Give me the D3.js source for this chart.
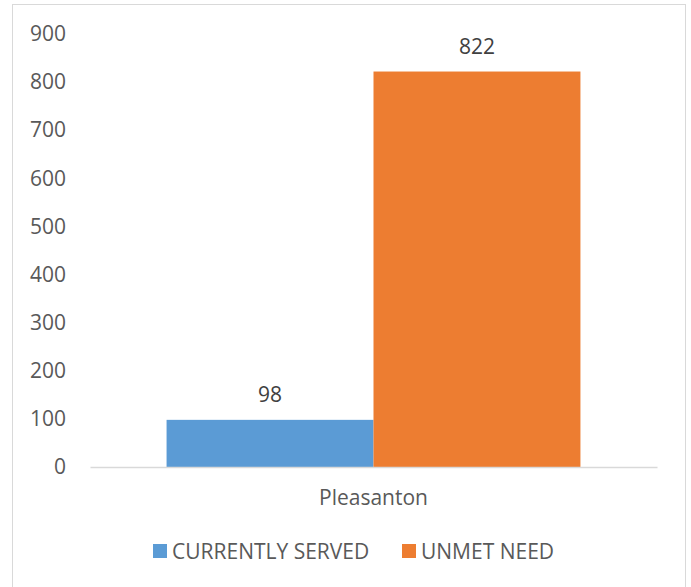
<!DOCTYPE html>
<html lang="en">
<head>
<meta charset="UTF-8">
<title>Pleasanton</title>
<script src="https://d3js.org/d3.v7.js"></script>
<style>
body { margin: 0; background: #fff; }
svg { display: block; }
text {
  font-family: "Open Sans", "Noto Sans", sans-serif;
  fill: #595959;
}
</style>
</head>
<body>
<svg id="chart" width="691" height="587"></svg>
<script>
const categories = ["Pleasanton"]
const seriesNames = ["CURRENTLY SERVED", "UNMET NEED"]
const servedValues = [98]
const unmetValues = [822]
const yTicks = [0, 100, 200, 300, 400, 500, 600, 700, 800, 900]
const colors = ["#5b9bd5", "#ed7d31"]

const svg = d3.select("#chart")
const fontSize = "21px"

// outer chart frame
svg.append("rect")
    .attr("x", 12.5).attr("y", 4.5)
    .attr("width", 673).attr("height", 600)
    .attr("fill", "none")
    .attr("stroke", "#d9d9d9")

const plotLeft = 90, plotRight = 657, plotTop = 34, plotBottom = 467

const x = d3.scaleBand().domain(categories).range([plotLeft, plotRight])
    .paddingInner(0).paddingOuter(0.185)
const xs = d3.scaleBand().domain(seriesNames).range([0, x.bandwidth()])
const y = d3.scaleLinear().domain([0, 900]).range([plotBottom, plotTop])

const rows = categories.map((c, i) => ({
    cat: c,
    vals: [servedValues[i], unmetValues[i]]
}))

// y axis labels
const yAxis = svg.append("g")
    .attr("transform", `translate(${plotLeft - 24},0)`)
    .call(d3.axisLeft(y).tickValues(yTicks).tickSize(0).tickPadding(0))
yAxis.select(".domain").remove()
yAxis.selectAll("text")
    .style("font-size", fontSize)
    .attr("fill", "#595959")

// bars
const groups = svg.append("g").selectAll("g")
    .data(rows)
    .join("g")
    .attr("transform", d => `translate(${x(d.cat)},0)`)

groups.selectAll("rect")
    .data(d => d.vals.map((v, i) => ({name: seriesNames[i], v: v, i: i})))
    .join("rect")
    .attr("x", d => xs(d.name))
    .attr("y", d => y(d.v))
    .attr("width", xs.bandwidth())
    .attr("height", d => y(0) - y(d.v))
    .attr("fill", d => colors[d.i])

groups.selectAll("text.lbl")
    .data(d => d.vals.map((v, i) => ({name: seriesNames[i], v: v})))
    .join("text")
    .classed("lbl", true)
    .attr("x", d => xs(d.name) + xs.bandwidth() / 2)
    .attr("y", d => y(d.v) - 18)
    .attr("text-anchor", "middle")
    .style("font-size", fontSize)
    .style("fill", "#404040")
    .text(d => d.v)

// x axis
const xAxis = svg.append("g")
    .attr("transform", `translate(0,${plotBottom})`)
    .call(d3.axisBottom(x).tickSize(0).tickPadding(0).tickSizeOuter(0))
xAxis.select(".domain").attr("stroke", "#d9d9d9").attr("stroke-width", 1.5)
xAxis.selectAll("text")
    .attr("dy", 0)
    .attr("y", 38)
    .style("font-size", fontSize)
    .attr("fill", "#595959")

// legend
const legendX = [153, 402]
const legend = svg.append("g").selectAll("g")
    .data(seriesNames)
    .join("g")
    .attr("transform", (d, i) => `translate(${legendX[i]},544)`)
legend.append("rect")
    .attr("width", 14).attr("height", 14)
    .attr("fill", (d, i) => colors[i])
legend.append("text")
    .attr("x", 19).attr("y", 14.5)
    .style("font-size", fontSize)
    .text(d => d)
</script>
</body>
</html>
